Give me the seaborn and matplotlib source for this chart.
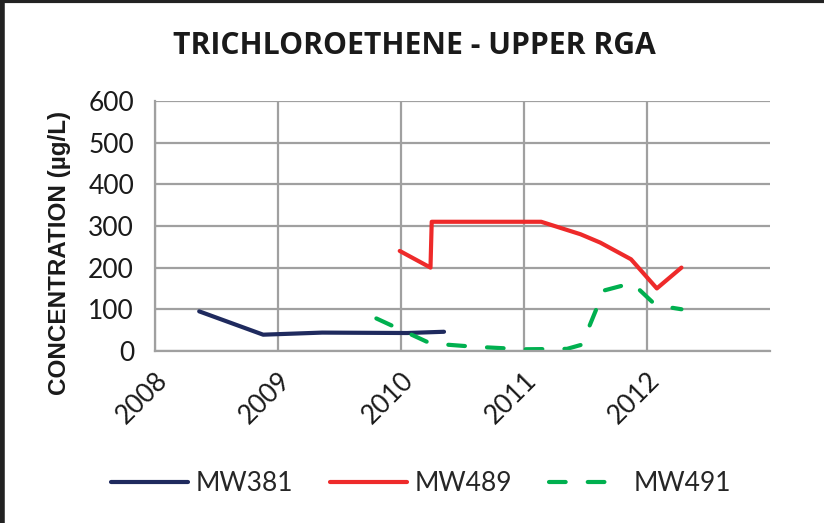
import pandas as pd
import matplotlib.pyplot as plt
import matplotlib.lines as mlines
import seaborn as sns

# sampling dates (decimal years) and TCE concentrations (ug/L)
mw381_x = [2008.36, 2008.88, 2009.36, 2010.05, 2010.35]
mw381_y = [95, 39, 44, 43, 46]

mw489_x = [2009.99, 2010.24, 2010.25, 2011.14, 2011.46, 2011.62, 2011.87, 2012.08, 2012.28]
mw489_y = [240, 200, 310, 310, 280, 260, 220, 150, 200]

mw491_x = [2009.80, 2010.24, 2010.60, 2011.00, 2011.35, 2011.47, 2011.65, 2011.88, 2012.07, 2012.28]
mw491_y = [78, 18, 10, 4, 5, 15, 145, 163, 110, 100]

year_ticks = [2008, 2009, 2010, 2011, 2012]
conc_ticks = [0, 100, 200, 300, 400, 500, 600]

df = pd.concat([
    pd.DataFrame({'date': mw381_x, 'conc': mw381_y, 'well': 'MW381'}),
    pd.DataFrame({'date': mw489_x, 'conc': mw489_y, 'well': 'MW489'}),
    pd.DataFrame({'date': mw491_x, 'conc': mw491_y, 'well': 'MW491'}),
])

sns.set_style('white')
plt.rcParams['font.family'] = ['Lato', 'DejaVu Sans']
plt.rcParams['lines.solid_capstyle'] = 'round'
plt.rcParams['lines.dash_capstyle'] = 'round'

colors = {'MW381': '#1f2a5e', 'MW489': '#ee2a2a', 'MW491': '#00b04f'}
dashes = {'MW381': '', 'MW489': '', 'MW491': (4, 5.3)}

fig = plt.figure(figsize=(8.24, 5.23), dpi=100)
ax = fig.add_axes([0.188, 0.329, 0.7465, 0.478])

sns.lineplot(data=df, x='date', y='conc', hue='well', style='well', palette=colors,
             dashes=dashes, estimator=None, sort=False, linewidth=3, ax=ax)

ax.set_xlim(2008, 2013)
ax.set_ylim(0, 600)
ax.set_xticks(year_ticks)
ax.set_xticklabels([str(y) for y in year_ticks], rotation=45, ha='right',
                   rotation_mode='anchor', fontsize=19, color='#1a1a1a')
ax.set_yticks(conc_ticks)
ax.set_yticklabels([str(v) for v in conc_ticks], fontsize=19, color='#1a1a1a')
ax.grid(True, color='#a0a0a0', linewidth=1.6)
ax.set_axisbelow(True)
for s in ['top', 'right']:
    ax.spines[s].set_visible(False)
for s in ['left', 'bottom']:
    ax.spines[s].set_color('#a0a0a0')
    ax.spines[s].set_linewidth(1.6)
ax.tick_params(axis='both', length=6, width=1.6, color='#a0a0a0', direction='out')
ax.tick_params(axis='y', pad=9)
ax.tick_params(axis='x', pad=6)

ax.set_xlabel('')
ax.set_ylabel('CONCENTRATION (µg/L)', fontsize=17.5, fontweight='bold',
              family=['Liberation Sans', 'DejaVu Sans'], color='#1a1a1a')
ax.yaxis.set_label_coords(-0.137, 0.39)
fig.text(0.503, 0.912, 'TRICHLOROETHENE - UPPER RGA', ha='center', va='center',
         fontsize=21.7, fontweight='bold', family=['Open Sans', 'DejaVu Sans'], color='#1a1a1a')

ax.legend_.remove()
handles = [mlines.Line2D([], [], color=colors[w], linewidth=3,
                         linestyle=(0, dashes[w]) if dashes[w] else '-')
           for w in ['MW381', 'MW489', 'MW491']]
fig.legend(handles, ['MW381', 'MW489', 'MW491'], loc='center', bbox_to_anchor=(0.511, 0.075),
           ncol=3, frameon=False, fontsize=19, handlelength=2.9, columnspacing=1.4,
           handletextpad=0.3)

# dark frame edge along top and left
fig.add_artist(mlines.Line2D([0, 1], [0.998, 0.998], color='#222222', linewidth=3, transform=fig.transFigure))
fig.add_artist(mlines.Line2D([0.002, 0.002], [0, 1], color='#222222', linewidth=4, transform=fig.transFigure))

fig.savefig('out.png', dpi=100)
